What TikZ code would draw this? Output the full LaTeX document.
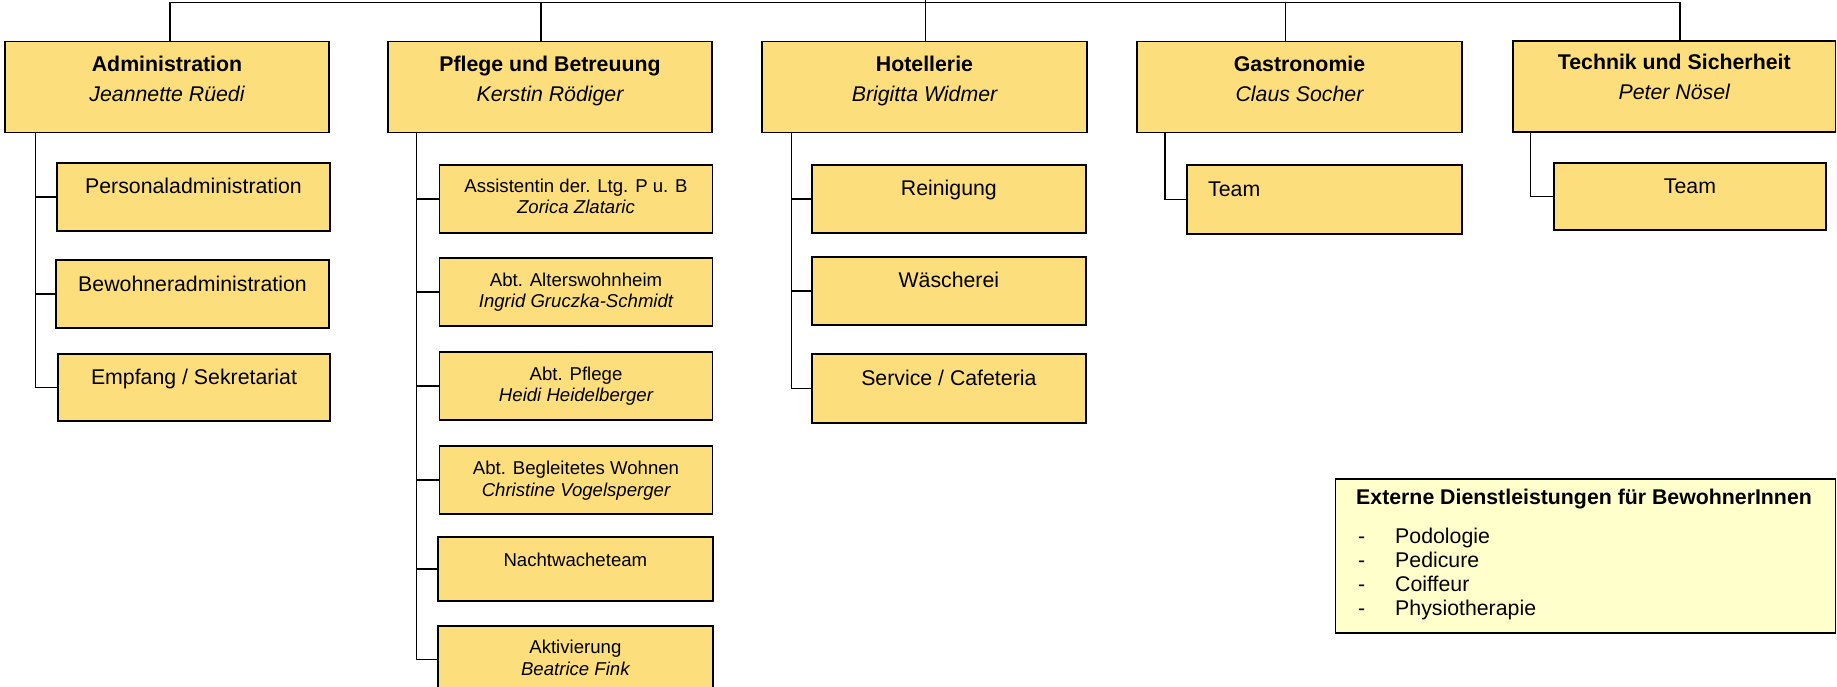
\documentclass[tikz,border=0pt]{standalone}
\usepackage{fontspec}
\setmainfont{Liberation Sans}
\definecolor{boxyellow}{RGB}{252,223,124}
\definecolor{lightyellow}{RGB}{255,255,204}
\begin{document}
\begin{tikzpicture}[x=1pt,y=-1pt,
  box/.style={draw=black, line width=1.8pt, fill=boxyellow, rectangle, inner sep=0pt, outer sep=0pt, anchor=north west},
  extbox/.style={draw=black, line width=1.8pt, fill=lightyellow, rectangle, inner sep=0pt, outer sep=0pt, anchor=north west},
  conn/.style={draw=black, line width=1.4pt},
  big/.style={inner sep=0pt, anchor=base, font=\fontsize{21.3}{24}\selectfont},
  bigb/.style={big, font=\fontsize{21.3}{24}\selectfont\bfseries},
  bigi/.style={big, font=\fontsize{21.3}{24}\selectfont\itshape},
  small/.style={inner sep=0pt, anchor=base, font=\fontsize{18.6}{21.5}\selectfont},
  smalli/.style={small, font=\fontsize{18.6}{21.5}\selectfont\itshape}]
\useasboundingbox (0,0) rectangle (1837,687);

% header boxes
\node[box, minimum width=324pt, minimum height=91pt] (admin) at (5,41.5) {};
\node[box, minimum width=324pt, minimum height=91pt] (pflege) at (388,41.5) {};
\node[box, minimum width=325pt, minimum height=91pt] (hotel) at (762,41.5) {};
\node[box, minimum width=325pt, minimum height=91pt] (gastro) at (1137,41.5) {};
\node[box, minimum width=322.5pt, minimum height=91pt] (technik) at (1513,41) {};

\node[bigb] (adminT) at ([yshift=-30pt]admin.north) {Administration};
\node[bigi] (adminS) at ([yshift=-60pt]admin.north) {Jeannette Rüedi};
\node[bigb] (pflegeT) at ([yshift=-30pt]pflege.north) {Pflege und Betreuung};
\node[bigi] (pflegeS) at ([yshift=-60pt]pflege.north) {Kerstin Rödiger};
\node[bigb] (hotelT) at ([yshift=-30pt]hotel.north) {Hotellerie};
\node[bigi] (hotelS) at ([yshift=-60pt]hotel.north) {Brigitta Widmer};
\node[bigb] (gastroT) at ([yshift=-30pt]gastro.north) {Gastronomie};
\node[bigi] (gastroS) at ([yshift=-60pt]gastro.north) {Claus Socher};
\node[bigb] (technikT) at ([yshift=-29pt]technik.north) {Technik und Sicherheit};
\node[bigi] (technikS) at ([yshift=-59pt]technik.north) {Peter Nösel};

% top connectors
\coordinate (t1) at (170,2.7);
\coordinate (t2) at (541,2.7);
\coordinate (t3) at (925.6,0);
\coordinate (t4) at (1285.7,2.7);
\coordinate (t5) at (1680,2.7);
\draw[conn] (t1 |- admin.north) -- (t1) -- (t5) -- (t5 |- technik.north);
\draw[conn] (t2) -- (t2 |- pflege.north);
\draw[conn] (t3) -- (t3 |- hotel.north);
\draw[conn] (t4) -- (t4 |- gastro.north);

% Administration children
\node[box, minimum width=273pt, minimum height=68pt] (pers) at (57,163) {};
\node[box, minimum width=273pt, minimum height=68pt] (bewo) at (56,260) {};
\node[box, minimum width=272pt, minimum height=67pt] (empf) at (58,354) {};
\node[big] (persT) at ([yshift=-30.5pt]pers.north) {Personaladministration};
\node[big] (bewoT) at ([yshift=-31pt]bewo.north) {Bewohneradministration};
\node[big] (empfT) at ([yshift=-30.5pt]empf.north) {Empfang / Sekretariat};
\coordinate (av) at (35.5,132.5);
\draw[conn] (av) |- (pers.west);
\draw[conn] (av) |- (bewo.west);
\draw[conn] (av) |- (empf.west);

% Pflege children
\node[box, minimum width=273pt, minimum height=68pt] (ass) at (439.5,165) {};
\node[box, minimum width=273pt, minimum height=68.3pt] (alt) at (439.5,257.7) {};
\node[box, minimum width=273pt, minimum height=68.3pt] (pfl) at (439.5,351.7) {};
\node[box, minimum width=273pt, minimum height=68pt] (beg) at (439.5,446) {};
\node[box, minimum width=274.7pt, minimum height=63.7pt] (nacht) at (438,537.3) {};
\node[box, minimum width=274.7pt, minimum height=68pt] (akt) at (438,625.7) {};
\node[small] (assT) at ([yshift=-27.7pt]ass.north) {Assistentin der. Ltg. P u. B};
\node[smalli] (assS) at ([yshift=-49pt]ass.north) {Zorica Zlataric};
\node[small] (altT) at ([yshift=-28.5pt]alt.north) {Abt. Alterswohnheim};
\node[smalli] (altS) at ([yshift=-49.5pt]alt.north) {Ingrid Gruczka-Schmidt};
\node[small] (pflT) at ([yshift=-28.5pt]pfl.north) {Abt. Pflege};
\node[smalli] (pflS) at ([yshift=-50pt]pfl.north) {Heidi Heidelberger};
\node[small] (begT) at ([yshift=-28.5pt]beg.north) {Abt. Begleitetes Wohnen};
\node[smalli] (begS) at ([yshift=-50pt]beg.north) {Christine Vogelsperger};
\node[small] (nachtT) at ([yshift=-29pt]nacht.north) {Nachtwacheteam};
\node[small] (aktT) at ([yshift=-27.7pt]akt.north) {Aktivierung};
\node[smalli] (aktS) at ([yshift=-49.5pt]akt.north) {Beatrice Fink};
\coordinate (pv) at (416.7,133);
\draw[conn] (pv) |- (ass.west);
\draw[conn] (pv) |- (alt.west);
\draw[conn] (pv) |- (pfl.west);
\draw[conn] (pv) |- (beg.west);
\draw[conn] (pv) |- (nacht.west);
\draw[conn] (pv) |- (akt.west);

% Hotellerie children
\node[box, minimum width=274.3pt, minimum height=68.3pt] (rein) at (811.7,165) {};
\node[box, minimum width=274.3pt, minimum height=67.7pt] (wasch) at (811.7,257.3) {};
\node[box, minimum width=274.3pt, minimum height=68.7pt] (serv) at (811.7,354) {};
\node[big] (reinT) at ([yshift=-31pt]rein.north) {Reinigung};
\node[big] (waschT) at ([yshift=-30.5pt]wasch.north) {Wäscherei};
\node[big] (servT) at ([yshift=-31pt]serv.north) {Service / Cafeteria};
\coordinate (hv) at (791.7,132.5);
\draw[conn] (hv) |- (rein.west);
\draw[conn] (hv) |- (wasch.west);
\draw[conn] (hv) |- (serv.west);

% Gastronomie child
\node[box, minimum width=275pt, minimum height=69pt] (gteam) at (1187,165) {};
\node[big, anchor=base west] (gteamT) at ([xshift=21pt,yshift=-31.5pt]gteam.north west) {Team};
\coordinate (gv) at (1165,132.5);
\draw[conn] (gv) |- (gteam.west);

% Technik child
\node[box, minimum width=272pt, minimum height=67.3pt] (tteam) at (1554,162.7) {};
\node[big] (tteamT) at ([yshift=-30.6pt]tteam.north) {Team};
\coordinate (tv) at (1530.7,132.5);
\draw[conn] (tv) |- (tteam.west);

% Externe Dienstleistungen
\node[extbox, minimum width=500pt, minimum height=154pt] (ext) at (1335.5,479.3) {};
\node[bigb, anchor=base west] (extT) at ([xshift=20.5pt,yshift=-25pt]ext.north west) {Externe Dienstleistungen für BewohnerInnen};
\node[big, anchor=base west] (d1) at ([xshift=22.5pt,yshift=-63.7pt]ext.north west) {-};
\node[big, anchor=base west] (i1) at ([xshift=59.5pt,yshift=-63.7pt]ext.north west) {Podologie};
\node[big, anchor=base west] (d2) at ([xshift=22.5pt,yshift=-87.7pt]ext.north west) {-};
\node[big, anchor=base west] (i2) at ([xshift=59.5pt,yshift=-87.7pt]ext.north west) {Pedicure};
\node[big, anchor=base west] (d3) at ([xshift=22.5pt,yshift=-111.7pt]ext.north west) {-};
\node[big, anchor=base west] (i3) at ([xshift=59.5pt,yshift=-111.7pt]ext.north west) {Coiffeur};
\node[big, anchor=base west] (d4) at ([xshift=22.5pt,yshift=-135.7pt]ext.north west) {-};
\node[big, anchor=base west] (i4) at ([xshift=59.5pt,yshift=-135.7pt]ext.north west) {Physiotherapie};
\end{tikzpicture}
\end{document}
